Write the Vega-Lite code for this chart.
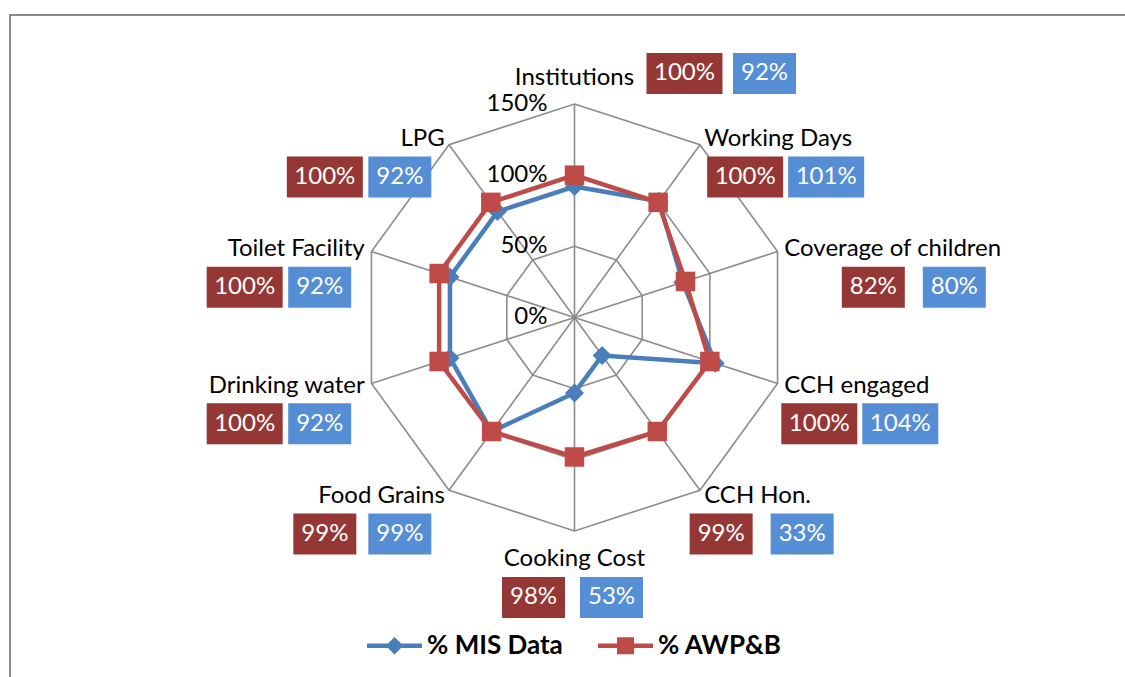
{
  "$schema": "https://vega.github.io/schema/vega-lite/v6.json",
  "width": 1130,
  "height": 680,
  "autosize": {"type": "none"},
  "padding": {"left": 10, "top": 15, "right": 0, "bottom": 0},
  "background": "white",
  "config": {"view": {"stroke": "#898989", "strokeWidth": 2}, "text": {"font": "Lato"}},
  "datasets": {
    "categories": [
      {"category": "Institutions", "idx": 0, "levels": [50, 100, 150]},
      {"category": "Working Days", "idx": 1, "levels": [50, 100, 150]},
      {"category": "Coverage of children", "idx": 2, "levels": [50, 100, 150]},
      {"category": "CCH engaged", "idx": 3, "levels": [50, 100, 150]},
      {"category": "CCH Hon.", "idx": 4, "levels": [50, 100, 150]},
      {"category": "Cooking Cost", "idx": 5, "levels": [50, 100, 150]},
      {"category": "Food Grains", "idx": 6, "levels": [50, 100, 150]},
      {"category": "Drinking water", "idx": 7, "levels": [50, 100, 150]},
      {"category": "Toilet Facility", "idx": 8, "levels": [50, 100, 150]},
      {"category": "LPG", "idx": 9, "levels": [50, 100, 150]}
    ],
    "series": [
      {"category": "Institutions", "idx": 0, "series": "% MIS Data", "value": 92},
      {"category": "Working Days", "idx": 1, "series": "% MIS Data", "value": 101},
      {"category": "Coverage of children", "idx": 2, "series": "% MIS Data", "value": 80},
      {"category": "CCH engaged", "idx": 3, "series": "% MIS Data", "value": 104},
      {"category": "CCH Hon.", "idx": 4, "series": "% MIS Data", "value": 33},
      {"category": "Cooking Cost", "idx": 5, "series": "% MIS Data", "value": 53},
      {"category": "Food Grains", "idx": 6, "series": "% MIS Data", "value": 99},
      {"category": "Drinking water", "idx": 7, "series": "% MIS Data", "value": 92},
      {"category": "Toilet Facility", "idx": 8, "series": "% MIS Data", "value": 92},
      {"category": "LPG", "idx": 9, "series": "% MIS Data", "value": 92},
      {"category": "Institutions", "idx": 0, "series": "% AWP&B", "value": 100},
      {"category": "Working Days", "idx": 1, "series": "% AWP&B", "value": 100},
      {"category": "Coverage of children", "idx": 2, "series": "% AWP&B", "value": 82},
      {"category": "CCH engaged", "idx": 3, "series": "% AWP&B", "value": 100},
      {"category": "CCH Hon.", "idx": 4, "series": "% AWP&B", "value": 99},
      {"category": "Cooking Cost", "idx": 5, "series": "% AWP&B", "value": 98},
      {"category": "Food Grains", "idx": 6, "series": "% AWP&B", "value": 99},
      {"category": "Drinking water", "idx": 7, "series": "% AWP&B", "value": 100},
      {"category": "Toilet Facility", "idx": 8, "series": "% AWP&B", "value": 100},
      {"category": "LPG", "idx": 9, "series": "% AWP&B", "value": 100}
    ],
    "ticks": [{"pct": 0}, {"pct": 50}, {"pct": 100}, {"pct": 150}]
  },
  "layer": [
    {
      "data": {"name": "categories"},
      "transform": [
        {"calculate": "0", "as": "cx"},
        {"calculate": "0", "as": "cy"},
        {"calculate": "1.5*sin(datum.idx*PI/5)", "as": "vx"},
        {"calculate": "1.5*cos(datum.idx*PI/5)", "as": "vy"}
      ],
      "mark": {"type": "rule", "color": "#8c8c8c", "strokeWidth": 1.6},
      "encoding": {
        "x": {"field": "cx", "type": "quantitative", "scale": {"domain": [-3.9661, 3.9732], "nice": false, "zero": false}, "axis": null},
        "y": {"field": "cy", "type": "quantitative", "scale": {"domain": [-2.6523, 2.1253], "nice": false, "zero": false}, "axis": null},
        "x2": {"field": "vx"},
        "y2": {"field": "vy"}
      }
    },
    {
      "data": {"name": "categories"},
      "transform": [
        {"flatten": ["levels"], "as": ["level"]},
        {"calculate": "datum.level/100*sin(datum.idx*PI/5)", "as": "gx"},
        {"calculate": "datum.level/100*cos(datum.idx*PI/5)", "as": "gy"}
      ],
      "mark": {"type": "line", "interpolate": "linear-closed", "color": "#8c8c8c", "strokeWidth": 1.6},
      "encoding": {
        "x": {"field": "gx", "type": "quantitative", "scale": {"domain": [-3.9661, 3.9732], "nice": false, "zero": false}, "axis": null},
        "y": {"field": "gy", "type": "quantitative", "scale": {"domain": [-2.6523, 2.1253], "nice": false, "zero": false}, "axis": null},
        "detail": {"field": "level", "type": "nominal"},
        "order": {"field": "idx", "type": "quantitative"}
      }
    },
    {
      "data": {"name": "ticks"},
      "transform": [
        {"calculate": "0", "as": "cx"},
        {"calculate": "datum.pct/100", "as": "r"},
        {"calculate": "datum.pct + '%'", "as": "lab"}
      ],
      "mark": {"type": "text", "align": "right", "baseline": "middle", "dx": -27, "font": "Lato", "fontSize": 24, "color": "black"},
      "encoding": {
        "x": {"field": "cx", "type": "quantitative", "scale": {"domain": [-3.9661, 3.9732], "nice": false, "zero": false}, "axis": null},
        "y": {"field": "r", "type": "quantitative", "scale": {"domain": [-2.6523, 2.1253], "nice": false, "zero": false}, "axis": null},
        "text": {"field": "lab"}
      }
    },
    {
      "data": {"name": "series"},
      "transform": [
        {"calculate": "0", "as": "cx"},
        {"calculate": "-2.2", "as": "cy"}
      ],
      "mark": {"type": "point", "filled": true, "opacity": 0, "size": 10},
      "encoding": {
        "x": {"field": "cx", "type": "quantitative", "scale": {"domain": [-3.9661, 3.9732], "nice": false, "zero": false}, "axis": null},
        "y": {"field": "cy", "type": "quantitative", "scale": {"domain": [-2.6523, 2.1253], "nice": false, "zero": false}, "axis": null},
        "color": {
          "field": "series", "type": "nominal",
          "scale": {"domain": ["% MIS Data", "% AWP&B"], "range": ["#4a7ebb", "#be4b48"]},
          "legend": {
            "orient": "none", "legendX": 357, "legendY": 603, "direction": "horizontal", "title": null,
            "padding": 0, "symbolSize": 3025, "symbolStrokeWidth": 0, "symbolOpacity": 1,
            "labelFont": "Lato", "labelFontSize": 26, "labelFontWeight": "bold", "labelColor": "black",
            "labelOffset": 5, "columnPadding": 35
          }
        },
        "shape": {
          "field": "series", "type": "nominal",
          "scale": {"domain": ["% MIS Data", "% AWP&B"], "range": ["M-1,-0.085H1V0.085H-1ZM0,-0.32L0.32,0L0,0.32L-0.32,0Z", "M-1,-0.085H1V0.085H-1ZM-0.31,-0.31H0.31V0.31H-0.31Z"]},
          "legend": {
            "orient": "none", "legendX": 357, "legendY": 603, "direction": "horizontal", "title": null,
            "padding": 0, "symbolSize": 3025, "symbolStrokeWidth": 0, "symbolOpacity": 1,
            "labelFont": "Lato", "labelFontSize": 26, "labelFontWeight": "bold", "labelColor": "black",
            "labelOffset": 5, "columnPadding": 35
          }
        }
      }
    },
    {
      "data": {"name": "series"},
      "transform": [
        {"filter": "datum.series === '% MIS Data'"},
        {"calculate": "datum.value/100*sin(datum.idx*PI/5)", "as": "px"},
        {"calculate": "datum.value/100*cos(datum.idx*PI/5)", "as": "py"}
      ],
      "mark": {"type": "line", "interpolate": "linear-closed", "strokeWidth": 4.5},
      "encoding": {
        "x": {"field": "px", "type": "quantitative", "scale": {"domain": [-3.9661, 3.9732], "nice": false, "zero": false}, "axis": null},
        "y": {"field": "py", "type": "quantitative", "scale": {"domain": [-2.6523, 2.1253], "nice": false, "zero": false}, "axis": null},
        "color": {"field": "series", "type": "nominal", "scale": {"domain": ["% MIS Data", "% AWP&B"], "range": ["#4a7ebb", "#be4b48"]}, "legend": null},
        "order": {"field": "idx", "type": "quantitative"}
      }
    },
    {
      "data": {"name": "series"},
      "transform": [
        {"filter": "datum.series === '% MIS Data'"},
        {"calculate": "datum.value/100*sin(datum.idx*PI/5)", "as": "px"},
        {"calculate": "datum.value/100*cos(datum.idx*PI/5)", "as": "py"}
      ],
      "mark": {"type": "point", "shape": "diamond", "filled": true, "size": 360, "opacity": 1},
      "encoding": {
        "x": {"field": "px", "type": "quantitative", "scale": {"domain": [-3.9661, 3.9732], "nice": false, "zero": false}, "axis": null},
        "y": {"field": "py", "type": "quantitative", "scale": {"domain": [-2.6523, 2.1253], "nice": false, "zero": false}, "axis": null},
        "color": {"field": "series", "type": "nominal", "scale": {"domain": ["% MIS Data", "% AWP&B"], "range": ["#4a7ebb", "#be4b48"]}, "legend": null}
      }
    },
    {
      "data": {"name": "series"},
      "transform": [
        {"filter": "datum.series === '% AWP&B'"},
        {"calculate": "datum.value/100*sin(datum.idx*PI/5)", "as": "px"},
        {"calculate": "datum.value/100*cos(datum.idx*PI/5)", "as": "py"}
      ],
      "mark": {"type": "line", "interpolate": "linear-closed", "strokeWidth": 4.5},
      "encoding": {
        "x": {"field": "px", "type": "quantitative", "scale": {"domain": [-3.9661, 3.9732], "nice": false, "zero": false}, "axis": null},
        "y": {"field": "py", "type": "quantitative", "scale": {"domain": [-2.6523, 2.1253], "nice": false, "zero": false}, "axis": null},
        "color": {"field": "series", "type": "nominal", "scale": {"domain": ["% MIS Data", "% AWP&B"], "range": ["#4a7ebb", "#be4b48"]}, "legend": null},
        "order": {"field": "idx", "type": "quantitative"}
      }
    },
    {
      "data": {"name": "series"},
      "transform": [
        {"filter": "datum.series === '% AWP&B'"},
        {"calculate": "datum.value/100*sin(datum.idx*PI/5)", "as": "px"},
        {"calculate": "datum.value/100*cos(datum.idx*PI/5)", "as": "py"}
      ],
      "mark": {"type": "point", "shape": "square", "filled": true, "size": 380, "opacity": 1},
      "encoding": {
        "x": {"field": "px", "type": "quantitative", "scale": {"domain": [-3.9661, 3.9732], "nice": false, "zero": false}, "axis": null},
        "y": {"field": "py", "type": "quantitative", "scale": {"domain": [-2.6523, 2.1253], "nice": false, "zero": false}, "axis": null},
        "color": {"field": "series", "type": "nominal", "scale": {"domain": ["% MIS Data", "% AWP&B"], "range": ["#4a7ebb", "#be4b48"]}, "legend": null}
      }
    },
    {
      "data": {"name": "categories"},
      "transform": [
        {"calculate": "sin(datum.idx*PI/5)", "as": "s"},
        {"calculate": "cos(datum.idx*PI/5)", "as": "c"},
        {"filter": "datum.s > 0.1"},
        {"calculate": "1.55*datum.s", "as": "lx"},
        {"calculate": "1.55*datum.c", "as": "ly"}
      ],
      "mark": {"type": "text", "align": "left", "baseline": "middle", "font": "Lato", "fontSize": 24, "color": "black"},
      "encoding": {
        "x": {"field": "lx", "type": "quantitative", "scale": {"domain": [-3.9661, 3.9732], "nice": false, "zero": false}, "axis": null},
        "y": {"field": "ly", "type": "quantitative", "scale": {"domain": [-2.6523, 2.1253], "nice": false, "zero": false}, "axis": null},
        "text": {"field": "category"}
      }
    },
    {
      "data": {"name": "categories"},
      "transform": [
        {"calculate": "sin(datum.idx*PI/5)", "as": "s"},
        {"calculate": "cos(datum.idx*PI/5)", "as": "c"},
        {"filter": "datum.s < -0.1"},
        {"calculate": "1.55*datum.s", "as": "lx"},
        {"calculate": "1.55*datum.c", "as": "ly"}
      ],
      "mark": {"type": "text", "align": "right", "baseline": "middle", "font": "Lato", "fontSize": 24, "color": "black"},
      "encoding": {
        "x": {"field": "lx", "type": "quantitative", "scale": {"domain": [-3.9661, 3.9732], "nice": false, "zero": false}, "axis": null},
        "y": {"field": "ly", "type": "quantitative", "scale": {"domain": [-2.6523, 2.1253], "nice": false, "zero": false}, "axis": null},
        "text": {"field": "category"}
      }
    },
    {
      "data": {"name": "categories"},
      "transform": [
        {"calculate": "sin(datum.idx*PI/5)", "as": "s"},
        {"calculate": "cos(datum.idx*PI/5)", "as": "c"},
        {"filter": "abs(datum.s) <= 0.1"},
        {"calculate": "0", "as": "lx"},
        {"calculate": "datum.c > 0 ? 1.68 : -1.70", "as": "ly"}
      ],
      "mark": {"type": "text", "align": "center", "baseline": "middle", "font": "Lato", "fontSize": 24, "color": "black"},
      "encoding": {
        "x": {"field": "lx", "type": "quantitative", "scale": {"domain": [-3.9661, 3.9732], "nice": false, "zero": false}, "axis": null},
        "y": {"field": "ly", "type": "quantitative", "scale": {"domain": [-2.6523, 2.1253], "nice": false, "zero": false}, "axis": null},
        "text": {"field": "category"}
      }
    },
    {
      "data": {"name": "series"},
      "transform": [
        {"calculate": "sin(datum.idx*PI/5)", "as": "s"},
        {"calculate": "cos(datum.idx*PI/5)", "as": "c"},
        {"calculate": "datum.s > 0.1 ? 1 : (datum.s < -0.1 ? -1 : 0)", "as": "side"},
        {"calculate": "datum.side == 0 && datum.c > 0", "as": "top"},
        {"calculate": "datum.side == 0 ? 0 : 220.6*datum.s", "as": "lxp"},
        {"calculate": "datum.side == 0 ? (datum.c > 0 ? 239 : -242) : 220.6*datum.c", "as": "lyp"},
        {"calculate": "length(datum.category)*12", "as": "tw"},
        {"calculate": "datum.value + '%'", "as": "lab"},
        {"calculate": "length(datum.lab)*13 + 24", "as": "w"},
        {"calculate": "datum.series === '% AWP&B'", "as": "red"},
        {"calculate": "datum.top ? datum.tw/2 + (datum.red ? 38 : 118) : (datum.side < 0 ? datum.lxp + (datum.red ? -120 : -45) : (datum.side > 0 ? datum.lxp + datum.tw/2 + (datum.red ? -31 : 50) : (datum.red ? -41 : 37)))", "as": "bcx"},
        {"calculate": "datum.top ? datum.lyp + 5 : datum.lyp - 38", "as": "bcy"},
        {"calculate": "(datum.bcx - datum.w/2)/142.33", "as": "bx1"},
        {"calculate": "(datum.bcx + datum.w/2)/142.33", "as": "bx2"},
        {"calculate": "(datum.bcy - 20.5)/142.33", "as": "by1"},
        {"calculate": "(datum.bcy + 20.5)/142.33", "as": "by2"}
      ],
      "mark": {"type": "rect"},
      "encoding": {
        "x": {"field": "bx1", "type": "quantitative", "scale": {"domain": [-3.9661, 3.9732], "nice": false, "zero": false}, "axis": null},
        "x2": {"field": "bx2"},
        "y": {"field": "by1", "type": "quantitative", "scale": {"domain": [-2.6523, 2.1253], "nice": false, "zero": false}, "axis": null},
        "y2": {"field": "by2"},
        "fill": {"field": "series", "type": "nominal", "scale": {"domain": ["% MIS Data", "% AWP&B"], "range": ["#558ed5", "#953735"]}, "legend": null}
      }
    },
    {
      "data": {"name": "series"},
      "transform": [
        {"calculate": "sin(datum.idx*PI/5)", "as": "s"},
        {"calculate": "cos(datum.idx*PI/5)", "as": "c"},
        {"calculate": "datum.s > 0.1 ? 1 : (datum.s < -0.1 ? -1 : 0)", "as": "side"},
        {"calculate": "datum.side == 0 && datum.c > 0", "as": "top"},
        {"calculate": "datum.side == 0 ? 0 : 220.6*datum.s", "as": "lxp"},
        {"calculate": "datum.side == 0 ? (datum.c > 0 ? 239 : -242) : 220.6*datum.c", "as": "lyp"},
        {"calculate": "length(datum.category)*12", "as": "tw"},
        {"calculate": "datum.value + '%'", "as": "lab"},
        {"calculate": "datum.series === '% AWP&B'", "as": "red"},
        {"calculate": "datum.top ? datum.tw/2 + (datum.red ? 38 : 118) : (datum.side < 0 ? datum.lxp + (datum.red ? -120 : -45) : (datum.side > 0 ? datum.lxp + datum.tw/2 + (datum.red ? -31 : 50) : (datum.red ? -41 : 37)))", "as": "bcx"},
        {"calculate": "datum.top ? datum.lyp + 5 : datum.lyp - 38", "as": "bcy"},
        {"calculate": "datum.bcx/142.33", "as": "bx"},
        {"calculate": "datum.bcy/142.33", "as": "by"}
      ],
      "mark": {"type": "text", "align": "center", "baseline": "middle", "font": "Lato", "fontSize": 24, "color": "white"},
      "encoding": {
        "x": {"field": "bx", "type": "quantitative", "scale": {"domain": [-3.9661, 3.9732], "nice": false, "zero": false}, "axis": null},
        "y": {"field": "by", "type": "quantitative", "scale": {"domain": [-2.6523, 2.1253], "nice": false, "zero": false}, "axis": null},
        "text": {"field": "lab"}
      }
    }
  ]
}
